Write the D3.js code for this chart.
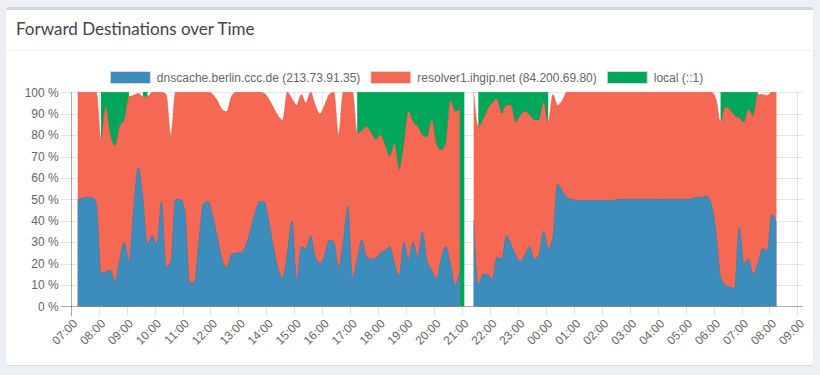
<!DOCTYPE html>
<html>
<head>
<meta charset="utf-8">
<script src="https://cdn.jsdelivr.net/npm/d3@7/dist/d3.min.js"></script>
<style>
  html, body { margin: 0; padding: 0; background: #ecf0f5; width: 820px; height: 375px; overflow: hidden; }
  .box {
    position: absolute; left: 6px; top: 7px; width: 807px; height: 358px;
    background: #fff; border-top: 3px solid #d2d6de; border-radius: 3px;
    box-shadow: 0 1px 1px rgba(0,0,0,0.1); box-sizing: border-box;
  }
  #chart { position: absolute; left: 0; top: 0; }
</style>
</head>
<body>
<div class="box"></div>
<div id="chart"></div>
<script>
// ---- data: share of forwarded queries per 10-minute slot (07:15 .. 08:15 next day)
const START = new Date(2017, 0, 1, 7, 15);
const STEP_MIN = 10;

const destNames = ['dnscache.berlin.ccc.de (213.73.91.35)', 'resolver1.ihgip.net (84.200.69.80)', 'local (::1)'];
const destColors = ['#3c8dbc', '#f56954', '#00a65a'];
const yTicks = [0, 10, 20, 30, 40, 50, 60, 70, 80, 90, 100];

const dnscache = [
  50, 50.5, 51, 51, 48, 15.5, 16, 17, 11.5, 22,
  30, 21, 45, 65, 50, 29, 33, 29, 49, 18,
  21, 50, 50, 45, 11, 11, 30, 48, 49, 42,
  32, 22, 18, 24, 25, 25, 28, 35, 43, 49,
  49, 40, 28, 18, 13, 25, 40, 12, 28, 27,
  33, 23, 20, 24, 31, 30, 18, 30, 47, 13,
  22, 31, 23, 22, 22.5, 25, 26, 28, 20, 14,
  30, 22, 30, 23, 35, 21, 17, 13, 22, 28,
  20, 10, 16, null, null, 40, 10, 15, 15, 12.5,
  23, 22, 33, 29, 24, 21, 24, 28, 22, 24,
  35, 27, 32, 57, 54, 51, 50, 49.5, 49.5, 49.5,
  49.5, 49.5, 49.5, 49.5, 49.5, 49.5, 50, 50, 50, 50,
  50, 50, 50, 50, 50, 50, 50, 50, 50, 50,
  50, 50, 50.5, 51, 51, 51.5, 48, 35, 14, 10,
  9, 8.5, 37, 20, 22, 15, 20, 27, 26, 43,
  39
];

const resolver1 = [
  50, 49.5, 49, 49, 52, 62.5, 77, 63, 63.5, 62,
  57, 77, 53.5, 34.5, 48, 69, 67, 71, 51, 81,
  59, 50, 50, 55, 89, 89, 70, 52, 51, 57,
  64, 70, 73, 74, 75, 75, 72, 65, 57, 51,
  50.5, 57, 65, 71, 74, 75, 57, 82, 71, 68,
  67, 71, 70, 70, 68, 70, 62, 70, 53, 87,
  59, 51, 61, 59, 55.5, 55, 49, 42, 56, 50,
  45, 69, 56, 61, 45, 58, 70, 63, 51, 48,
  76, 81, 76, null, null, 60, 74, 72, 77, 82.5,
  74, 68, 61, 65, 62, 68, 67, 61.5, 65, 63,
  60, 59, 67, 37, 42, 49, 50, 50.5, 50.5, 50.5,
  50.5, 50.5, 50.5, 50.5, 50.5, 50.5, 50, 50, 50, 50,
  50, 50, 50, 50, 50, 50, 50, 50, 50, 50,
  50, 50, 49.5, 49, 49, 48.5, 52, 62, 72, 83,
  83, 80.5, 51, 66, 70, 74, 79, 72, 72.5, 57,
  61
];

const local = [
  null, null, null, null, null, 22, 7, 20, 25, 16,
  13, 2, null, null, 2, 2, null, null, null, null,
  null, null, null, null, null, null, null, null, null, null,
  null, null, null, null, null, null, null, null, null, null,
  null, null, null, null, null, null, null, null, null, null,
  null, null, null, null, null, null, null, null, null, null,
  19, 18, 16, 19, 22, 20, 25, 30, 24, 36,
  25, 9, 14, 16, 20, 21, 13, 24, 27, 24,
  4, 9, 8, 100, null, null, 16, 13, 8, 5,
  3, 10, 6, 6, 14, 11, 9, 10.5, 13, 13,
  5, 14, null, null, null, null, null, null, null, null,
  null, null, null, null, null, null, null, null, null, null,
  null, null, null, null, null, null, null, null, null, null,
  null, null, null, null, null, null, null, null, 14, 7,
  8, 11, 12, 14, 8, 11, 1, null, null, null,
  null
];

// ---- layout
const W = 820, H = 375;
const plot = { left: 70.7, right: 803, top: 92.3, bottom: 306.3 };

const svg = d3.select('#chart').append('svg')
  .attr('width', W).attr('height', H)
  .style('font-family', "'Liberation Sans', Arial, sans-serif");

// header
svg.append('text')
  .attr('x', 16).attr('y', 35)
  .attr('fill', '#444')
  .style('font-family', "Lato, 'Open Sans', sans-serif")
  .style('font-size', '17px')
  .text('Forward Destinations over Time');
svg.append('line')
  .attr('x1', 6).attr('x2', 813).attr('y1', 50.5).attr('y2', 50.5)
  .attr('stroke', '#f4f4f4');

// rows with stacked totals
const rows = dnscache.map((b, i) => {
  const r = resolver1[i], g = local[i];
  return {
    t: d3.timeMinute.offset(START, i * STEP_MIN),
    b, r, g,
    c2: (b ?? 0) + (r ?? 0),
    c3: (b ?? 0) + (r ?? 0) + (g ?? 0)
  };
});

// ---- scales
const x = d3.scaleTime()
  .domain([new Date(2017, 0, 1, 7, 0), new Date(2017, 0, 2, 9, 12)])
  .range([plot.left, plot.right]);
const y = d3.scaleLinear().domain([0, 100]).range([plot.bottom, plot.top]);

const gridColor = 'rgba(0,0,0,0.1)';
const hourTicks = x.ticks(d3.timeHour.every(1));

// gridlines
const grid = svg.append('g');
grid.selectAll('.hg').data(yTicks).join('line')
  .attr('x1', plot.left - 10).attr('x2', plot.right)
  .attr('y1', d => Math.round(y(d)) + 0.5).attr('y2', d => Math.round(y(d)) + 0.5)
  .attr('stroke', gridColor);
grid.selectAll('.vg').data(hourTicks).join('line')
  .attr('x1', d => Math.round(x(d)) + 0.5).attr('x2', d => Math.round(x(d)) + 0.5)
  .attr('y1', plot.top).attr('y2', plot.bottom + 10)
  .attr('stroke', gridColor);

// ---- stacked areas (drawn back to front, each filled from zero)
const curve = d3.curveMonotoneX;
const areaOf = (def, top) => d3.area()
  .defined(def)
  .curve(curve)
  .x(d => x(d.t))
  .y0(y(0))
  .y1(d => y(top(d)));
const lineOf = (def, top) => d3.line()
  .defined(def)
  .curve(curve)
  .x(d => x(d.t))
  .y(d => y(top(d)));

const layers = [
  { def: d => d.g != null, top: d => d.c3, color: destColors[2] },
  { def: d => d.r != null, top: d => d.c2, color: destColors[1] },
  { def: d => d.b != null, top: d => d.b, color: destColors[0] }
];
const areasG = svg.append('g');
layers.forEach(L => {
  areasG.append('path')
    .attr('d', areaOf(L.def, L.top)(rows))
    .attr('fill', L.color);
  areasG.append('path')
    .attr('d', lineOf(L.def, L.top)(rows))
    .attr('fill', 'none')
    .attr('stroke', d3.color(L.color).darker(0.4))
    .attr('stroke-opacity', 0.5)
    .attr('stroke-width', 1);
});

// ---- axes
const yAxis = svg.append('g')
  .attr('transform', `translate(${plot.left},0)`)
  .call(d3.axisLeft(y).tickValues(yTicks).tickSize(0).tickPadding(12).tickFormat(d => d + ' %'));
yAxis.select('.domain').remove();
yAxis.selectAll('.tick text').attr('fill', '#666').style('font-size', '12px');

const xAxis = svg.append('g')
  .attr('transform', `translate(0,${plot.bottom})`)
  .call(d3.axisBottom(x).tickValues(hourTicks).tickSize(0).tickFormat(d3.timeFormat('%H:%M')));
xAxis.select('.domain').remove();
xAxis.selectAll('.tick text')
  .attr('fill', '#666').style('font-size', '12px')
  .attr('x', 0).attr('y', 0).attr('dy', '0.35em')
  .attr('text-anchor', 'end')
  .attr('transform', 'translate(4,15) rotate(-45)');

// axis lines
svg.append('line')
  .attr('x1', Math.round(plot.left) + 0.5).attr('x2', Math.round(plot.left) + 0.5)
  .attr('y1', plot.top).attr('y2', plot.bottom + 10)
  .attr('stroke', 'rgba(0,0,0,0.25)');
svg.append('line')
  .attr('x1', plot.left - 10).attr('x2', plot.right)
  .attr('y1', Math.round(plot.bottom) + 0.5).attr('y2', Math.round(plot.bottom) + 0.5)
  .attr('stroke', 'rgba(0,0,0,0.25)');

// ---- legend
const legend = svg.append('g').attr('transform', 'translate(0,71)');
const items = legend.selectAll('g').data(destNames).join('g');
items.append('rect')
  .attr('x', 0.5).attr('y', 0.5).attr('width', 40).attr('height', 12)
  .attr('fill', (d, i) => destColors[i])
  .attr('stroke', '#d8d8d8');
items.append('text')
  .attr('x', 47).attr('y', 6.5).attr('dy', '0.35em')
  .attr('fill', '#666').style('font-size', '12px')
  .text(d => d);
const widths = [];
items.each(function () { widths.push(47 + this.querySelector('text').getComputedTextLength()); });
const total = d3.sum(widths) + 10 * (widths.length - 1);
let lx = 406.5 - total / 2;
items.each(function (d, i) {
  d3.select(this).attr('transform', `translate(${lx},0)`);
  lx += widths[i] + 10;
});
</script>
</body>
</html>
